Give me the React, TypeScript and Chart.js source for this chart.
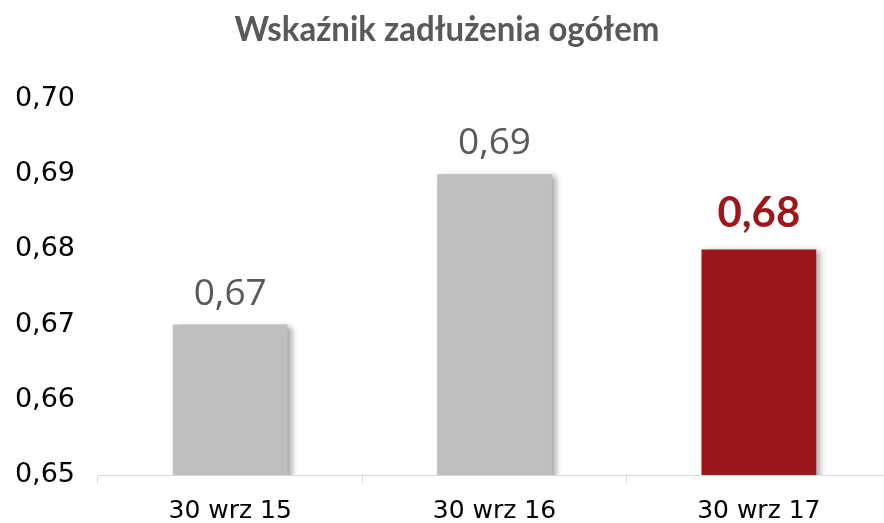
import React, { useEffect, useRef } from "react";
import { Chart, registerables } from "chart.js";

Chart.register(...registerables);

const title = "Wskaźnik zadłużenia ogółem";
const categories = ["30 wrz 15", "30 wrz 16", "30 wrz 17"];
const values = [0.67, 0.69, 0.68];
const barColors = ["#bfbfbf", "#bfbfbf", "#9b171b"];
const labelColors = ["#595959", "#595959", "#9b171b"];
const labelBold = [false, false, true];
const yMin = 0.65;
const yMax = 0.7;
const yStep = 0.01;

const fmt = (v: number) => v.toFixed(2).replace(".", ",");

export default function App() {
  const ref = useRef<HTMLCanvasElement | null>(null);
  useEffect(() => {
    document.body.style.margin = "0";
    const canvas = ref.current!;
    const shadowPlugin = {
      id: "barShadow",
      beforeDatasetsDraw(chart: any) {
        const ctx = chart.ctx;
        ctx.save();
        ctx.shadowColor = "rgba(0,0,0,0.35)";
        ctx.shadowBlur = 6;
        ctx.shadowOffsetX = 4;
        ctx.shadowOffsetY = 2;
      },
      afterDatasetsDraw(chart: any) {
        chart.ctx.restore();
      },
    };
    const labelPlugin = {
      id: "labelsAndTitle",
      afterDraw(chart: any) {
        const ctx = chart.ctx;
        const meta = chart.getDatasetMeta(0);
        meta.data.forEach((bar: any, i: number) => {
          ctx.save();
          ctx.font = labelBold[i] ? 'bold 42px Lato' : '37px "Open Sans"';
          ctx.fillStyle = labelColors[i];
          ctx.textAlign = "center";
          ctx.textBaseline = "alphabetic";
          ctx.fillText(fmt(values[i]), bar.x, bar.y - (labelBold[i] ? 22 : 20));
          ctx.restore();
        });
        ctx.save();
        ctx.font = 'bold 35px Lato';
        ctx.fillStyle = "#595959";
        ctx.textBaseline = "alphabetic";
        ctx.textAlign = "center";
        const w = ctx.measureText(title).width;
        const target = 425;
        const sx = Math.min(1, target / w);
        ctx.translate(447, 41);
        ctx.scale(sx, 1);
        ctx.fillText(title, 0, 0);
        ctx.restore();
      },
    };
    const chart = new Chart(canvas, {
      type: "bar",
      data: {
        labels: categories,
        datasets: [
          {
            data: values.map((v) => v),
            backgroundColor: barColors,
            borderWidth: 0,
            barPercentage: 0.434,
            categoryPercentage: 1,
          },
        ],
      },
      options: {
        responsive: false,
        animation: false,
        devicePixelRatio: 1,
        layout: { padding: { top: 99, right: 5, left: 0, bottom: 0 } },
        plugins: {
          legend: { display: false },
          title: { display: false },
          tooltip: { enabled: false },
        },
        scales: {
          x: {
            offset: true,
            grid: {
              display: true,
              offset: true,
              drawOnChartArea: false,
              drawTicks: true,
              tickLength: 8,
              color: "#d9d9d9",
            },
            border: { display: true, color: "#d9d9d9", width: 1 },
            ticks: {
              color: "#000000",
              padding: 13,
              font: { family: '"DejaVu Sans"', size: 25 },
            },
            afterFit(scale: any) {
              scale.height = 48;
            },
          },
          y: {
            min: yMin,
            max: yMax,
            grid: { display: false, drawTicks: false },
            border: { display: false },
            ticks: {
              stepSize: yStep,
              color: "#000000",
              padding: 23,
              font: { family: '"DejaVu Sans"', size: 27 },
              callback: (v: any) => fmt(Number(v)),
            },
            afterFit(scale: any) {
              scale.width = 98;
            },
          },
        },
      },
      plugins: [shadowPlugin, labelPlugin],
    });
    return () => chart.destroy();
  }, []);
  return (
    <div style={{ width: 884, height: 523, overflow: "hidden", position: "relative" }}>
      <canvas ref={ref} width={896} height={523} style={{ width: 896, height: 523, display: "block" }} />
    </div>
  );
}
